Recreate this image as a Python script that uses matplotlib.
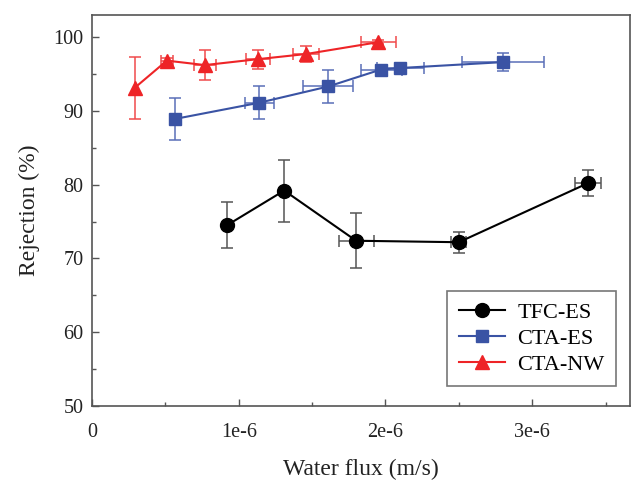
import matplotlib
matplotlib.use("Agg")
import matplotlib.pyplot as plt
from matplotlib.ticker import MultipleLocator, FixedLocator
from matplotlib.lines import Line2D

plt.rcParams['font.family'] = ['Liberation Serif', 'DejaVu Serif']

# TFC-ES
tfc_x = [0.92e-6, 1.31e-6, 1.80e-6, 2.50e-6, 3.38e-6]
tfc_y = [74.5, 79.2, 72.4, 72.2, 80.2]
tfc_yerr = [3.1, 4.2, 3.7, 1.4, 1.8]
tfc_xerr = [0.0, 0.0, 0.12e-6, 0.05e-6, 0.09e-6]

# CTA-ES
es_x = [0.565e-6, 1.14e-6, 1.61e-6, 1.97e-6, 2.10e-6, 2.80e-6]
es_y = [88.9, 91.1, 93.3, 95.6, 95.8, 96.6]
es_yerr = [2.8, 2.2, 2.2, 0.3, 0.3, 1.2]
es_xerr = [0.0, 0.10e-6, 0.17e-6, 0.14e-6, 0.16e-6, 0.28e-6]

# CTA-NW
nw_x = [0.29e-6, 0.51e-6, 0.77e-6, 1.13e-6, 1.46e-6, 1.95e-6]
nw_y = [93.1, 96.8, 96.2, 97.0, 97.7, 99.3]
nw_yerr = [4.2, 0.4, 2.0, 1.3, 1.1, 0.3]
nw_xerr = [0.0, 0.04e-6, 0.074e-6, 0.08e-6, 0.09e-6, 0.12e-6]

labels = ['TFC-ES', 'CTA-ES', 'CTA-NW']
x_ticks = [0, 1e-6, 2e-6, 3e-6]
x_ticklabels = ['0', '1e-6', '2e-6', '3e-6']
y_ticks = [50, 60, 70, 80, 90, 100]

fig = plt.figure(figsize=(6.32, 4.8), dpi=100)
ax = fig.add_axes([0.1456, 0.154, 0.852, 0.815])

black = '#000000'
blue = '#3A53A4'
red = '#EE2427'

ax.errorbar(tfc_x, tfc_y, yerr=tfc_yerr, xerr=tfc_xerr, color=black, marker='o',
            markersize=10, linewidth=1.5, ecolor='#555555', elinewidth=1.1,
            capsize=4.5, capthick=1.1, zorder=3)
ax.errorbar(es_x, es_y, yerr=es_yerr, xerr=es_xerr, color=blue, marker='s',
            markersize=9, linewidth=1.5, ecolor='#5A6FB8', elinewidth=1.1,
            capsize=4.5, capthick=1.1, zorder=3)
ax.errorbar(nw_x, nw_y, yerr=nw_yerr, xerr=nw_xerr, color=red, marker='^',
            markersize=10, linewidth=1.5, ecolor='#F04A4C', elinewidth=1.1,
            capsize=4.5, capthick=1.1, zorder=3)

ax.set_xlim(0, 3.67e-6)
ax.set_ylim(50, 103)
ax.xaxis.set_major_locator(FixedLocator(x_ticks))
ax.set_xticklabels(x_ticklabels)
ax.xaxis.set_minor_locator(MultipleLocator(0.5e-6))
ax.yaxis.set_major_locator(FixedLocator(y_ticks))
ax.yaxis.set_minor_locator(MultipleLocator(5))

ax.tick_params(which='both', direction='in', top=False, right=False,
               color='#555555', labelsize=14.5, labelcolor='#222222')
ax.tick_params(which='major', length=5, width=1)
ax.tick_params(which='minor', length=3, width=1)
ax.tick_params(axis='x', pad=12)
ax.tick_params(axis='y', pad=6)
for s in ax.spines.values():
    s.set_color('#555555')
    s.set_linewidth(1.2)

ax.set_xlabel('Water flux (m/s)', fontsize=17, color='#222222', labelpad=12)
ax.set_ylabel('Rejection (%)', fontsize=17, color='#222222', labelpad=10)

handles = [
    Line2D([], [], color=black, marker='o', markersize=10, linewidth=1.5),
    Line2D([], [], color=blue, marker='s', markersize=9, linewidth=1.5),
    Line2D([], [], color=red, marker='^', markersize=10, linewidth=1.5),
]
leg = ax.legend(handles, labels, loc='upper left', bbox_to_anchor=(0.660, 0.294),
                borderaxespad=0, fontsize=16, frameon=True, fancybox=False,
                edgecolor='#555555', handlelength=2.1, handletextpad=0.55,
                borderpad=0.5, labelspacing=0.25)
leg.get_frame().set_linewidth(1.2)

fig.savefig('out.png', dpi=100)
